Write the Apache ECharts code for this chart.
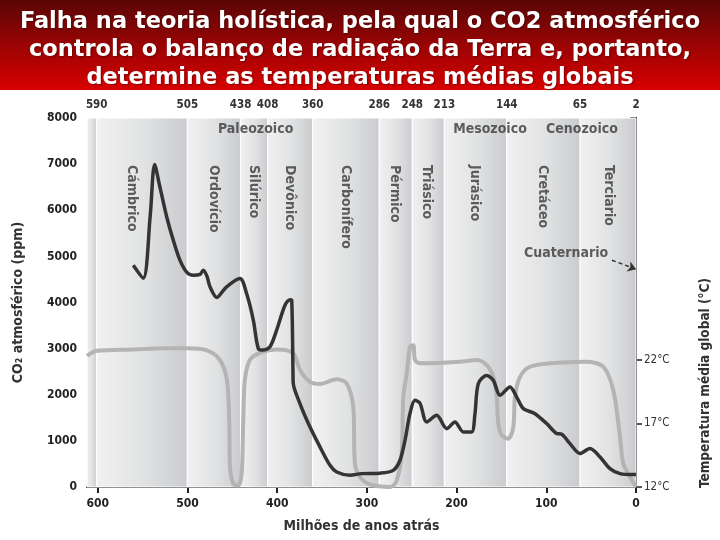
<!DOCTYPE html>
<html>
<head>
<meta charset="utf-8">
<script src="https://cdn.jsdelivr.net/npm/echarts@6/dist/echarts.min.js"></script>
<style>html,body{margin:0;padding:0;background:#fff}#c{width:720px;height:540px}</style>
</head>
<body>
<div id="c"></div>
<script>
// ---------- DATA ----------
const titleLines = ['Falha na teoria holística, pela qual o CO2 atmosférico', 'controla o balanço de radiação da Terra e, portanto,', 'determine as temperaturas médias globais'];
// CO2 (ppm) vs. millions of years ago
const co2Data = [[560.4,4810],[549.3,4530],[541.5,5890],[536.6,6990],[530.8,6510],[523.2,5860],[515.8,5350],[508.4,4920],[500.9,4660],[493.5,4590],[486,4610],[482.4,4700],[478.3,4570],[474.9,4340],[467.4,4110],[457,4330],[441.5,4520],[434,4190],[426.6,3620],[421,3000],[415.5,2970],[408,3040],[400.6,3400],[391.3,3940],[385.7,4060],[383.8,4050],[382.4,2530],[382.1,2250],[374.6,1810],[363.4,1300],[352.3,870],[341.1,470],[333.7,325],[318.8,255],[305.9,290],[285.4,300],[270.6,360],[263.1,580],[257.5,1010],[252,1590],[246.4,1880],[240.8,1815],[233.3,1410],[222.2,1555],[211,1265],[201.8,1410],[192.5,1195],[183.2,1195],[179.5,1590],[175.8,2240],[166.4,2420],[159.1,2315],[151.6,1990],[140.5,2170],[133,1950],[125.6,1700],[112.6,1590],[99.6,1375],[88.4,1160],[82.8,1145],[73.6,940],[62.4,725],[51.3,835],[40.1,650],[29,400],[17.8,290],[3,270],[0,270]];
// Global mean temperature (°C) vs. millions of years ago
const tempData = [[612,22.3],[601,22.7],[561,22.8],[523,22.9],[501,22.9],[479,22.75],[464,22.0],[456,20.4],[453.4,17.25],[452.6,13.6],[449,12.27],[443.3,12.13],[439.6,13.06],[437.8,17.25],[436,20.4],[430.3,22.0],[419,22.55],[400.6,22.8],[382,22.5],[374.6,21.2],[363.4,20.27],[352.3,20.1],[333.7,20.46],[322.5,20.14],[315.2,18.3],[313.3,13.84],[307.7,12.8],[296.5,12.2],[274,12.0],[266.8,12.5],[261.2,14.6],[259.4,19.1],[255.6,20.9],[251.9,23.0],[248.3,23.15],[246.4,22.0],[240.8,21.72],[196,21.84],[177.6,21.98],[166.4,21.58],[159.1,20.66],[155.3,19.1],[153.5,17.0],[149.8,16.07],[142.4,15.8],[136.8,16.7],[134.9,19.1],[129.3,20.66],[118.2,21.45],[96,21.72],[55,21.84],[36.5,21.45],[25.3,19.6],[17.8,15.94],[14.2,13.84],[6.7,12.8],[0,12.0]];
// period boundaries (where drawn on the time axis) and their printed ages
const boundaryPos = [601.2, 500.2, 440.7, 410.6, 360.4, 286.2, 249.4, 213.7, 144.1, 62.4, 0];
const boundaryLabels = ['590','505','438','408','360','286','248','213','144','65','2'];
const periodNames = ['Cámbrico','Ordovício','Silúrico','Devônico','Carbonífero','Pérmico','Triásico','Jurásico','Cretáceo','Terciario'];
const eraNames = ['Paleozoico','Mesozoico','Cenozoico'];
const xTicks = [0,100,200,300,400,500,600];
const tempTicks = [12,17,22];

// ---------- LAYOUT (annotation anchors, data coords) ----------
const periodLabelX = [562, 471, 426, 386.5, 323.6, 268.7, 233.3, 179.5, 104, 30.9];
const periodLabelY = 6980;
const eraLabelX = [424, 162.8, 60.2];
const eraLabelY = 7757;

const NARROW = "'DejaVu Sans Condensed','Liberation Sans Narrow',sans-serif";
const AX = '#222';

const chart = echarts.init(document.getElementById('c'), null, {renderer: 'canvas'});

const bandEdges = [612].concat(boundaryPos);
const bandData = [];
for (let i = 0; i < bandEdges.length - 1; i++) {
  bandData.push([
    {xAxis: bandEdges[i], itemStyle: {
      color: new echarts.graphic.LinearGradient(0, 0, 1, 0, [
        {offset: 0, color: '#f1f1f1'}, {offset: 0.5, color: '#e2e3e4'}, {offset: 1, color: '#c9cbce'}]),
      borderColor: '#ffffff', borderWidth: 1}},
    {xAxis: bandEdges[i + 1]}
  ]);
}

const option = {
  backgroundColor: '#ffffff',
  animation: false,
  title: {
    text: titleLines.join('\n'), left: 'center', top: 3, z: 10,
    textStyle: {color: '#fff', fontFamily: "'DejaVu Sans',sans-serif", fontWeight: 'bold', fontSize: 22.5, lineHeight: 28,
      textShadowColor: 'rgba(0,0,0,0.35)', textShadowBlur: 2, textShadowOffsetX: 1, textShadowOffsetY: 1}
  },
  graphic: [
    {type: 'rect', z: -10, shape: {x: 0, y: 0, width: 720, height: 90},
     style: {fill: new echarts.graphic.LinearGradient(0, 0, 0, 1, [{offset: 0, color: '#5a0606'}, {offset: 0.55, color: '#a00303'}, {offset: 1, color: '#d80000'}])}},
    {type: 'text', x: 705, y: 383, rotation: Math.PI / 2, z: 10,
     style: {text: 'Temperatura média global (°C)', fill: '#333', font: "bold 13.5px " + NARROW, align: 'center', verticalAlign: 'middle'}}
  ],
  grid: {left: 87, right: 84, top: 118, bottom: 53},
  xAxis: [
    {type: 'value', min: 0, max: 612, inverse: true, position: 'bottom',
     axisLine: {show: true, onZero: false, lineStyle: {color: AX, width: 2}},
     axisTick: {show: true, customValues: xTicks, length: 6, lineStyle: {color: AX, width: 2}},
     axisLabel: {customValues: xTicks, formatter: v => String(v), color: AX, fontFamily: NARROW, fontWeight: 'bold', fontSize: 12, margin: 11},
     splitLine: {show: false},
     name: 'Milhões de anos atrás', nameLocation: 'middle', nameGap: 32,
     nameTextStyle: {color: '#333', fontFamily: NARROW, fontWeight: 'bold', fontSize: 14}},
    {type: 'value', min: 0, max: 612, inverse: true, position: 'top',
     axisLine: {show: false}, axisTick: {show: false}, splitLine: {show: false},
     axisLabel: {customValues: boundaryPos, color: '#333', fontFamily: NARROW, fontWeight: 'bold', fontSize: 11.5, margin: 7,
       formatter: v => boundaryLabels[boundaryPos.indexOf(v)]}}
  ],
  yAxis: [
    {type: 'value', min: 0, max: 8000, interval: 1000, position: 'left',
     axisLine: {show: true, lineStyle: {color: AX, width: 2}},
     axisTick: {show: true, length: 6, lineStyle: {color: AX, width: 2}},
     axisLabel: {formatter: v => String(v), color: AX, fontFamily: NARROW, fontWeight: 'bold', fontSize: 12, margin: 10},
     splitLine: {show: true, lineStyle: {color: '#a8a8a8', width: 1}},
     name: 'CO₂ atmosférico (ppm)', nameLocation: 'middle', nameGap: 62,
     nameTextStyle: {color: '#333', fontFamily: NARROW, fontWeight: 'bold', fontSize: 14}},
    {type: 'value', min: 12, max: 41, interval: 5, position: 'right',
     axisLine: {show: true, lineStyle: {color: AX, width: 2}},
     axisTick: {show: true, customValues: tempTicks, length: 6, lineStyle: {color: AX, width: 1.5}},
     axisLabel: {customValues: tempTicks, formatter: '{value}°C', color: '#333', fontFamily: NARROW, fontSize: 11.5, margin: 8},
     splitLine: {show: false}}
  ],
  series: [
    {name: 'bands', type: 'line', data: [], z: -1, silent: true,
     markArea: {silent: true, data: bandData}},
    {name: 'Temperatura', type: 'line', yAxisIndex: 1, data: tempData, smooth: 0.3, symbol: 'none', clip: false, z: 3,
     lineStyle: {color: '#b4b4b4', width: 4}},
    {name: 'CO2', type: 'line', yAxisIndex: 0, data: co2Data, smooth: 0.3, symbol: 'none', clip: false, z: 4,
     lineStyle: {color: '#343434', width: 3.5}},
    {name: 'periods', type: 'scatter', symbolSize: 0, z: 5, silent: true,
     data: periodNames.map((n, i) => [periodLabelX[i], periodLabelY, n]),
     label: {show: true, position: 'inside', rotate: -90, align: 'left', verticalAlign: 'middle',
       formatter: p => p.data[2], color: '#383838', fontFamily: NARROW, fontWeight: 'bold', fontSize: 14}},
    {name: 'eras', type: 'scatter', symbolSize: 0, z: 5, silent: true,
     data: eraNames.map((n, i) => [eraLabelX[i], eraLabelY, n]).concat([[78, 5063, 'Cuaternario']]),
     label: {show: true, position: 'inside', align: 'center', verticalAlign: 'middle',
       formatter: p => p.data[2], color: '#383838', fontFamily: NARROW, fontWeight: 'bold', fontSize: 14}},
    {name: 'arrow', type: 'line', data: [], silent: true,
     markLine: {silent: true, symbol: ['none', 'arrow'], symbolSize: 8, label: {show: false},
       lineStyle: {color: '#333', type: [4, 3], width: 1.5},
       data: [[{coord: [26.8, 4917]}, {coord: [0, 4721]}]]}}
  ]
};
chart.setOption(option);
</script>
</body>
</html>
